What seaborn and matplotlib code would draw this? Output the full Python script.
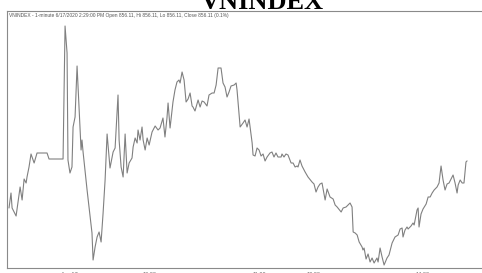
import matplotlib
matplotlib.use("Agg")
import matplotlib.pyplot as plt
import seaborn as sns
import pandas as pd

# minutes relative to 9:15 on Jun 17 (gapless trading time; negatives = previous session)
minutes = [
    -28.6, -27.5, -26.9, -24.7, -22.5, -21.4, -20.3, -19.2, -18.7, -17.6, -16.5, -14.8, -13.2, -7.7, -6.6,
    1.1, 2.2, 3.3, 3.8, 4.9, 6.0, 6.6, 7.7, 8.8, 9.9, 11.0, 11.5, 12.1, 14.3, 17.0, 17.6, 18.7, 19.8,
    20.9, 22.0, 23.1, 24.2, 25.3, 26.9, 28.6, 29.7, 31.3, 31.9, 33.0, 34.1, 35.2, 36.3, 37.4, 39.0,
    39.6, 40.7, 41.8, 42.3, 43.4, 44.5, 45.1, 46.2, 47.3, 48.4, 50.0, 51.7, 53.3,
    54.4, 56.0, 57.1, 58.2, 58.8, 59.9, 61.5, 62.6, 63.7, 64.8, 65.4, 66.5, 67.6, 68.7, 69.8, 70.9,
    72.0, 72.5, 73.6, 74.7, 75.3, 76.4, 77.5, 78.6, 80.2, 81.3, 83.0, 84.1, 85.2, 86.3, 87.9, 89.0,
    90.1, 91.2, 92.3, 93.4, 95.1, 96.2, 96.7, 98.4, 100.0, 101.1, 102.2, 103.3, 105.0, 105.5, 106.6,
    107.7, 108.8, 109.9, 111.0, 112.1, 113.2, 114.8, 115.9, 117.0, 118.1, 119.2, 120.9, 121.4, 122.5,
    123.6, 124.7, 126.4, 127.5, 128.6, 129.7, 130.2, 131.3, 132.4, 134.1, 135.7, 137.9, 139.0, 140.1, 141.2,
    142.3, 143.4, 145.1, 146.2, 147.8, 149.5, 150.6, 151.7, 153.9, 155.0, 156.6, 157.7, 158.8, 159.9,
    160.5, 161.6, 162.7, 163.8, 165.4, 165.9, 166.5, 167.6, 168.7, 169.8, 170.9, 172.0, 173.6, 174.2,
    175.3, 176.4, 177.5, 179.1, 180.2, 181.9, 183.5, 185.2, 186.3, 187.4, 187.9, 189.0, 190.1, 190.7,
    192.3, 193.4, 194.0, 195.6, 196.2, 196.7, 197.8, 198.9, 200.6, 201.7, 202.8, 203.9, 205.0, 206.6,
    207.7, 208.8, 209.9, 211.0, 212.1, 213.2, 214.3, 215.4, 216.5, 217.6, 218.2, 219.3, 220.4, 221.4,
    222.5, 223.1,
]

prices = [
    851.4, 852.9, 851.4, 850.6, 853.5, 852.2, 854.3, 853.9, 854.5, 855.5, 856.8, 855.9, 856.9, 856.9, 856.3,
    856.3, 869.6, 866.9, 856.2, 854.9, 855.5, 859.5, 860.5, 865.6, 861.5, 857.2, 858.2, 857.0, 853.2, 848.9,
    846.2, 847.5, 848.5, 849.0, 848.0, 850.9, 854.2, 858.8, 855.4, 857.0, 857.4, 862.7, 858.2, 855.5, 854.5,
    858.8, 854.9, 855.9, 856.4, 857.5, 858.4, 857.9, 859.2, 858.2, 859.5, 858.2, 857.2, 858.4, 857.7, 859.0,
    859.6, 859.2,
    859.4, 860.4, 858.5, 860.4, 861.9, 859.4, 862.0, 863.2, 864.0, 864.2, 863.9, 865.0, 864.2, 862.0, 862.3,
    862.9, 861.6, 861.5, 861.1, 861.8, 862.2, 861.5, 862.1, 862.0, 861.6, 862.7, 862.9, 862.9, 863.7, 865.4,
    865.4, 863.9, 863.5, 862.5, 863.0, 863.6, 863.7, 863.9, 863.2, 859.5, 859.9, 860.2, 859.5, 860.3, 857.9,
    856.7, 856.6, 857.4, 857.2, 856.6, 856.8, 856.1, 856.5, 856.9, 857.0, 856.5, 856.9, 856.5, 856.5, 856.8,
    856.5, 856.8, 856.7, 855.9, 855.9, 855.5, 855.6, 855.5, 856.2, 855.6, 855.0, 854.5, 854.0, 853.8, 853.0,
    853.5,
    853.8, 853.9, 852.2, 853.3, 852.5, 852.3, 851.7, 851.5, 851.0, 851.4, 851.5, 851.7, 851.9, 851.5, 849.0,
    848.9, 848.7, 848.0, 847.5, 847.2, 847.4, 846.3, 846.8, 846.0, 846.4, 845.9, 846.4, 846.0, 847.4, 846.5,
    845.7, 846.4, 846.7, 847.9, 848.5, 848.7, 849.3, 849.4, 848.5, 849.2, 849.5, 849.3, 849.6, 849.9, 849.7,
    851.2, 851.4, 849.5, 850.8, 851.3, 851.8, 852.5, 852.5, 852.9, 853.2, 853.5, 853.9, 855.6, 854.2, 853.2,
    853.8, 853.9, 854.3, 854.7, 853.9, 852.9, 853.7, 854.2, 853.9, 853.9, 856.0, 856.11,
]

tick_minutes = [0, 45, 105, 135, 195]
tick_labels = ["Jun 17", "10:00", "11:00", "13:00", "14:00"]

title_text = "VNINDEX"
info_text = "VNINDEX - 1-minute 6/17/2020 2:29:00 PM Open 856.11, Hi 856.11, Lo 856.11, Close 856.11 (0.1%)"

df = pd.DataFrame({"minute": minutes, "price": prices})

sns.set_style("white")
plt.rcParams["font.family"] = ["Liberation Sans", "DejaVu Sans"]

fig = plt.figure(figsize=(4.82, 2.73), dpi=100)
ax = fig.add_axes([7 / 482, 5 / 273, 1 - 7 / 482, 257 / 273])

sns.lineplot(data=df, x="minute", y="price", ax=ax, color="#808080",
             linewidth=0.8, estimator=None, sort=False)

ax.set_xlim(-29.7, 231.3)
ax.set_ylim(845.4, 871.1)
ax.set_xlabel("")
ax.set_ylabel("")
ax.set_yticks([])
ax.set_xticks(tick_minutes)
ax.set_xticklabels(tick_labels, fontsize=4, color="#666666", ha="left")
ax.tick_params(axis="x", length=2, width=0.5, color="#999999", pad=1.2, direction="out")

for side in ["left", "top", "bottom"]:
    ax.spines[side].set_visible(True)
    ax.spines[side].set_color("#8a8a8a")
    ax.spines[side].set_linewidth(0.8)
ax.spines["right"].set_visible(False)

fig.text(262.5 / 482, (273 - 9) / 273, title_text, ha="center", va="baseline",
         fontsize=19, fontweight="bold", family=["Liberation Serif", "DejaVu Serif"], color="black")
ax.text(2 / 475, 1 - 4 / 257, info_text, transform=ax.transAxes, ha="left", va="center",
        fontsize=3.5, color="#555555")

fig.savefig("out.png", dpi=100)
